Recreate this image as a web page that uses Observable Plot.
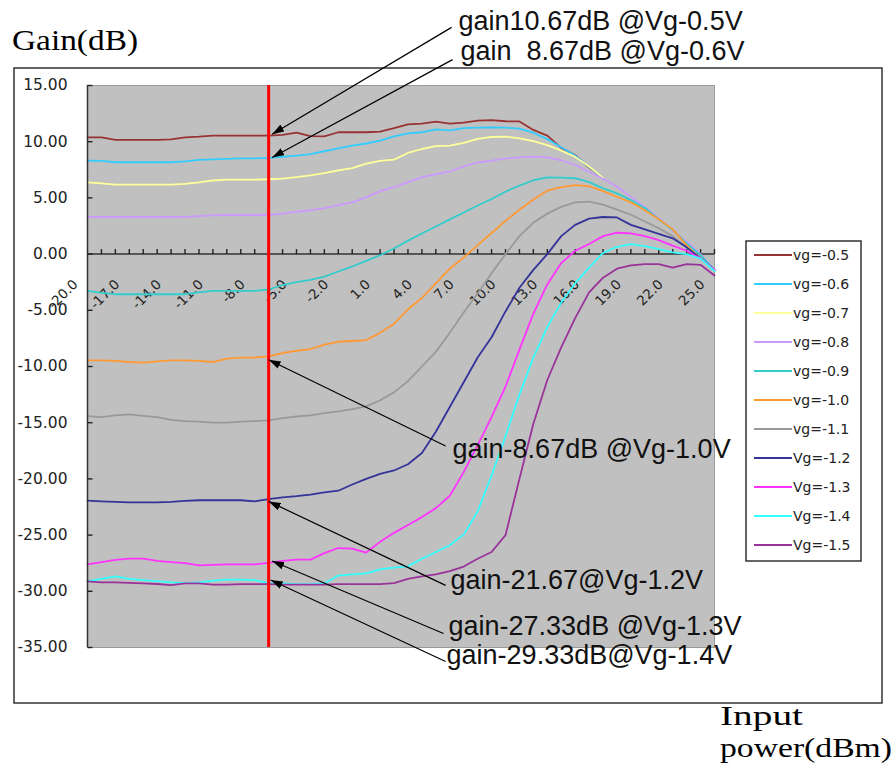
<!DOCTYPE html>
<html><head><meta charset="utf-8">
<script src="https://cdn.jsdelivr.net/npm/d3@7"></script>
<script src="https://cdn.jsdelivr.net/npm/@observablehq/plot@0.6"></script>
<style>body{margin:0;background:#fff;} #chart{width:896px;height:778px;}</style>
</head><body><div id="chart"></div>
<script>
// Input power (dBm) sample points
const inputPower = [-20,-19,-18,-17,-16,-15,-14,-13,-12,-11,-10,-9,-8,-7,-6,-5,-4,-3,-2,-1,0,1,2,3,4,5,6,7,8,9,10,11,12,13,14,15,16,17,18,19,20,21,22,23,24,25];

const seriesNames = ["vg=-0.5","vg=-0.6","vg=-0.7","vg=-0.8","vg=-0.9","vg=-1.0","vg=-1.1","Vg=-1.2","Vg=-1.3","Vg=-1.4","Vg=-1.5"];
const seriesColors = ["#993333","#33CCFF","#FFFF99","#CC99FF","#33CCCC","#FF9933","#999999","#333399","#FF33FF","#33FFFF","#993399"];

// Gain (dB) per series, one value per input power point
const vgM05 = [10.39,10.39,10.16,10.16,10.16,10.16,10.2,10.39,10.45,10.54,10.54,10.54,10.54,10.54,10.6,10.8,10.5,10.48,10.84,10.84,10.84,10.9,11.2,11.55,11.6,11.79,11.6,11.7,11.88,11.92,11.82,11.8,11.05,10.54,9.45,8.8,7.7,6.8,null,null,null,null,null,null,null,null];
const vgM06 = [8.32,8.3,8.17,8.17,8.17,8.17,8.17,8.25,8.38,8.42,8.48,8.52,8.52,8.56,8.66,8.76,8.9,9.15,9.4,9.65,9.84,10.1,10.47,10.74,10.84,11.1,11.0,11.2,11.25,11.28,11.25,11.16,10.8,10.23,9.5,8.75,7.75,6.8,null,null,null,null,null,null,null,null];
const vgM07 = [6.38,6.3,6.18,6.18,6.18,6.18,6.18,6.25,6.38,6.55,6.62,6.62,6.62,6.66,6.72,6.85,7.0,7.2,7.45,7.65,8.05,8.3,8.4,9.0,9.35,9.6,9.65,9.9,10.25,10.42,10.45,10.3,10.05,9.7,9.2,8.65,7.8,6.8,null,null,null,null,null,null,null,null];
const vgM08 = [3.32,3.3,3.3,3.3,3.3,3.3,3.3,3.32,3.38,3.45,3.48,3.48,3.48,3.48,3.6,3.75,3.9,4.1,4.35,4.6,5.05,5.6,5.95,6.4,6.85,7.1,7.35,7.8,8.15,8.32,8.5,8.6,8.67,8.6,8.35,7.95,7.3,6.7,6.0,5.1,4.2,3.2,2.1,1.1,0.0,-1.4];
const vgM09 = [-3.27,-3.45,-3.57,-3.57,-3.57,-3.57,-3.57,-3.57,-3.4,-3.27,-3.27,-3.27,-3.27,-3.15,-2.75,-2.5,-2.3,-2.0,-1.55,-1.1,-0.6,-0.1,0.5,1.2,1.83,2.46,3.09,3.7,4.32,4.9,5.55,6.1,6.57,6.83,6.8,6.75,6.4,5.85,5.4,4.8,4.1,3.1,2.15,0.95,-0.1,-1.4];
const vgM10 = [-9.45,-9.45,-9.5,-9.6,-9.66,-9.55,-9.45,-9.45,-9.5,-9.6,-9.3,-9.21,-9.2,-9.1,-8.8,-8.6,-8.45,-8.05,-7.8,-7.73,-7.65,-7.0,-6.2,-4.9,-3.9,-2.6,-1.3,-0.3,0.8,1.88,2.95,3.95,4.85,5.64,5.95,6.13,6.05,5.6,5.1,4.6,3.9,3.1,2.2,0.8,-0.4,-1.4];
const vgM11 = [-14.41,-14.5,-14.35,-14.26,-14.4,-14.5,-14.75,-14.86,-14.9,-15.0,-15.0,-14.9,-14.86,-14.8,-14.6,-14.45,-14.35,-14.15,-14.0,-13.8,-13.55,-13.0,-12.3,-11.3,-10.0,-8.7,-7.0,-5.2,-3.5,-1.7,0.0,1.6,2.8,3.6,4.2,4.6,4.66,4.4,3.95,3.5,2.9,2.3,1.6,0.6,-0.3,-1.5];
const vgM12 = [-21.93,-22.0,-22.05,-22.08,-22.08,-22.08,-22.05,-21.95,-21.9,-21.9,-21.9,-21.9,-22.0,-21.8,-21.65,-21.54,-21.4,-21.2,-21.05,-20.5,-20.0,-19.55,-19.25,-18.7,-17.7,-15.8,-13.6,-11.4,-9.2,-7.4,-5.1,-3.0,-1.4,0.0,1.6,2.6,3.15,3.3,3.26,2.6,2.2,1.8,1.4,0.6,-0.4,-1.4];
const vgM13 = [-27.6,-27.4,-27.2,-27.1,-27.1,-27.3,-27.4,-27.5,-27.7,-27.65,-27.6,-27.6,-27.6,-27.48,-27.3,-27.18,-27.18,-26.6,-26.15,-26.2,-26.55,-25.6,-24.8,-24.1,-23.4,-22.6,-21.5,-19.4,-17.0,-14.5,-11.8,-8.5,-5.3,-2.7,-0.8,0.3,0.9,1.6,1.9,1.85,1.6,1.25,0.75,0.3,-0.4,-1.4];
const vgM14 = [-29.1,-28.9,-28.67,-28.9,-29.0,-29.1,-29.2,-29.27,-29.2,-29.05,-28.97,-28.97,-29.0,-29.27,-29.3,-29.36,-29.36,-29.3,-28.6,-28.5,-28.4,-28.05,-27.9,-27.78,-27.1,-26.5,-25.9,-24.96,-22.9,-19.7,-16.2,-12.5,-9.2,-6.5,-4.3,-2.6,-1.2,0.1,0.65,0.88,0.7,0.45,0.15,0.0,-0.4,-1.5];
const vgM15 = [-29.12,-29.2,-29.2,-29.25,-29.3,-29.35,-29.45,-29.3,-29.3,-29.4,-29.4,-29.36,-29.36,-29.36,-29.4,-29.41,-29.41,-29.4,-29.36,-29.36,-29.36,-29.36,-29.27,-28.9,-28.67,-28.5,-28.2,-27.8,-27.1,-26.5,-25.0,-20.0,-15.1,-11.2,-8.3,-5.7,-3.4,-2.1,-1.3,-1.0,-0.9,-0.9,-1.2,-0.9,-0.95,-1.9];
const seriesValues = [vgM05,vgM06,vgM07,vgM08,vgM09,vgM10,vgM11,vgM12,vgM13,vgM14,vgM15];

// Axis ticks
const yTickValues = [15,10,5,0,-5,-10,-15,-20,-25,-30,-35];
const yTickLabels = ["15.00","10.00","5.00","0.00","-5.00","-10.00","-15.00","-20.00","-25.00","-30.00","-35.00"];
const xTickValues = [-20,-17,-14,-11,-8,-5,-2,1,4,7,10,13,16,19,22,25];
const xTickLabels = ["-20.0","-17.0","-14.0","-11.0","-8.0","-5.0","-2.0","1.0","4.0","7.0","10.0","13.0","16.0","19.0","22.0","25.0"];
const xMinorTicks = [-19,-18,-17,-16,-15,-14,-13,-12,-11,-10,-9,-8,-7,-6,-5,-4,-3,-2,-1,0,1,2,3,4,5,6,7,8,9,10,11,12,13,14,15,16,17,18,19,20,21,22,23,24,25];

// Red marker line (input power)
const markerPower = [-7];

// Annotations
const annTexts = ["gain10.67dB @Vg-0.5V","gain  8.67dB @Vg-0.6V","gain-8.67dB @Vg-1.0V","gain-21.67@Vg-1.2V","gain-27.33dB @Vg-1.3V","gain-29.33dB@Vg-1.4V"];
const annX = [6.63, 6.77, 6.2, 6.05, 5.91, 5.77];
const annY = [19.9, 17.23, -18.15, -29.83, -33.93, -36.43];
const arrowFromX = [6.13, 6.2, 5.7, 5.7, 5.55, 5.7];
const arrowFromY = [20.17, 17.3, -17.08, -29.47, -33.75, -36.25];
const arrowToX = [-6.75, -6.75, -7.0, -7.0, -6.75, -6.85];
const arrowToY = [10.67, 8.6, -9.4, -22.0, -27.3, -29.0];

const rows = seriesNames.flatMap((s, i) => inputPower.map((x, j) => ({x, y: seriesValues[i][j], s})));
const annIdx = annTexts.map((_, i) => i);
const xMin = inputPower[0];
const tickLenY = 0.45;  // tick length on the zero line, in dB
const tickLenX = 0.36;  // tick length on the value axis, in dBm
const xMinorRows = xMinorTicks.map(x => ({x, y1: 0, y2: tickLenY}));
const yTickRows = yTickValues.map(y => ({y, x1: xMin, x2: xMin + tickLenX}));

const svg = Plot.plot({
  width: 896, height: 778,
  marginLeft: 87, marginRight: 182, marginTop: 85, marginBottom: 131,
  x: {domain: [-20, 25], axis: null},
  y: {domain: [-35, 15], axis: null},
  color: {domain: seriesNames, range: seriesColors},
  style: {fontFamily: "DejaVu Sans", background: "white", overflow: "visible"},
  marks: [
    Plot.frame({fill: "#c0c0c0", stroke: "#9a9a9a"}),
    Plot.ruleY([0], {stroke: "#333", strokeWidth: 1.5}),
    Plot.link(xMinorRows, {x1: "x", x2: "x", y1: "y1", y2: "y2", stroke: "#222", strokeWidth: 1.4}),
    Plot.text(xTickValues, {x: d => d, y: 0, text: (d, i) => xTickLabels[i], rotate: -45, textAnchor: "end", dx: -12, dy: 28, fontSize: 13.5, fill: "#222"}),
    Plot.line(rows, {x: "x", y: "y", z: "s", stroke: "s", strokeWidth: 1.8}),
    Plot.ruleX(markerPower, {stroke: "#ff0000", strokeWidth: 3}),
    Plot.ruleX([xMin], {stroke: "#333", strokeWidth: 1.5}),
    Plot.link(yTickRows, {x1: "x1", x2: "x2", y1: "y", y2: "y", stroke: "#222", strokeWidth: 1.4}),
    Plot.text(yTickValues, {y: d => d, frameAnchor: "left", text: (d, i) => yTickLabels[i], textAnchor: "end", dx: -20, fontSize: 15.5, fill: "#222"}),
    Plot.link(annIdx, {x1: i => arrowFromX[i], y1: i => arrowFromY[i], x2: i => arrowToX[i], y2: i => arrowToY[i], stroke: "#000", strokeWidth: 1.2, markerEnd: "arrow"}),
    Plot.text(annIdx, {x: i => annX[i], y: i => annY[i], text: i => annTexts[i], textAnchor: "start", lineAnchor: "bottom", fontFamily: "Liberation Sans", fontSize: 27, fill: "#111"})
  ]
});

const s = d3.select(svg);
// filled arrowheads for the annotation arrows
s.selectAll("marker")
  .attr("viewBox", "0 0 12 8").attr("refX", 12).attr("refY", 4)
  .attr("markerWidth", 12).attr("markerHeight", 8).attr("markerUnits", "userSpaceOnUse").attr("orient", "auto")
  .attr("fill", "#000").attr("stroke", "none")
  .selectAll("path").attr("d", "M0,0L12,4L0,8Z").attr("fill", "#000").attr("stroke", "none");
s.selectAll("text").style("white-space", "pre");
// outer chart border
s.insert("rect", ":first-child").attr("x", 14).attr("y", 68).attr("width", 868).attr("height", 635)
  .attr("fill", "#fff").attr("stroke", "#333").attr("stroke-width", 1.5);
// axis titles
const serif = "Liberation Serif";
const addTitle = (txt, x, y, size, len) => s.append("text").attr("x", x).attr("y", y)
  .attr("text-anchor", "start").attr("font-family", serif).attr("font-size", size)
  .attr("textLength", len).attr("lengthAdjust", "spacingAndGlyphs").attr("fill", "#000").text(txt);
addTitle("Gain(dB)", 12, 50, 30, 126);
addTitle("Input", 720, 725, 28, 83);
addTitle("power(dBm)", 720, 757, 28, 172);
// legend
const lg = s.append("g").attr("transform", "translate(746,241)");
lg.append("rect").attr("width", 115).attr("height", 320).attr("fill", "#fff").attr("stroke", "#333").attr("stroke-width", 1.5);
seriesNames.forEach((name, i) => {
  const y = 14 + i * 29;
  lg.append("line").attr("x1", 8).attr("x2", 46).attr("y1", y).attr("y2", y).attr("stroke", seriesColors[i]).attr("stroke-width", 2);
  lg.append("text").attr("x", 47).attr("y", y).attr("dy", "0.36em").attr("text-anchor", "start")
    .attr("font-family", "DejaVu Sans").attr("font-size", 14).attr("fill", "#222").text(name);
});
document.getElementById("chart").appendChild(svg);
</script>
</body></html>
